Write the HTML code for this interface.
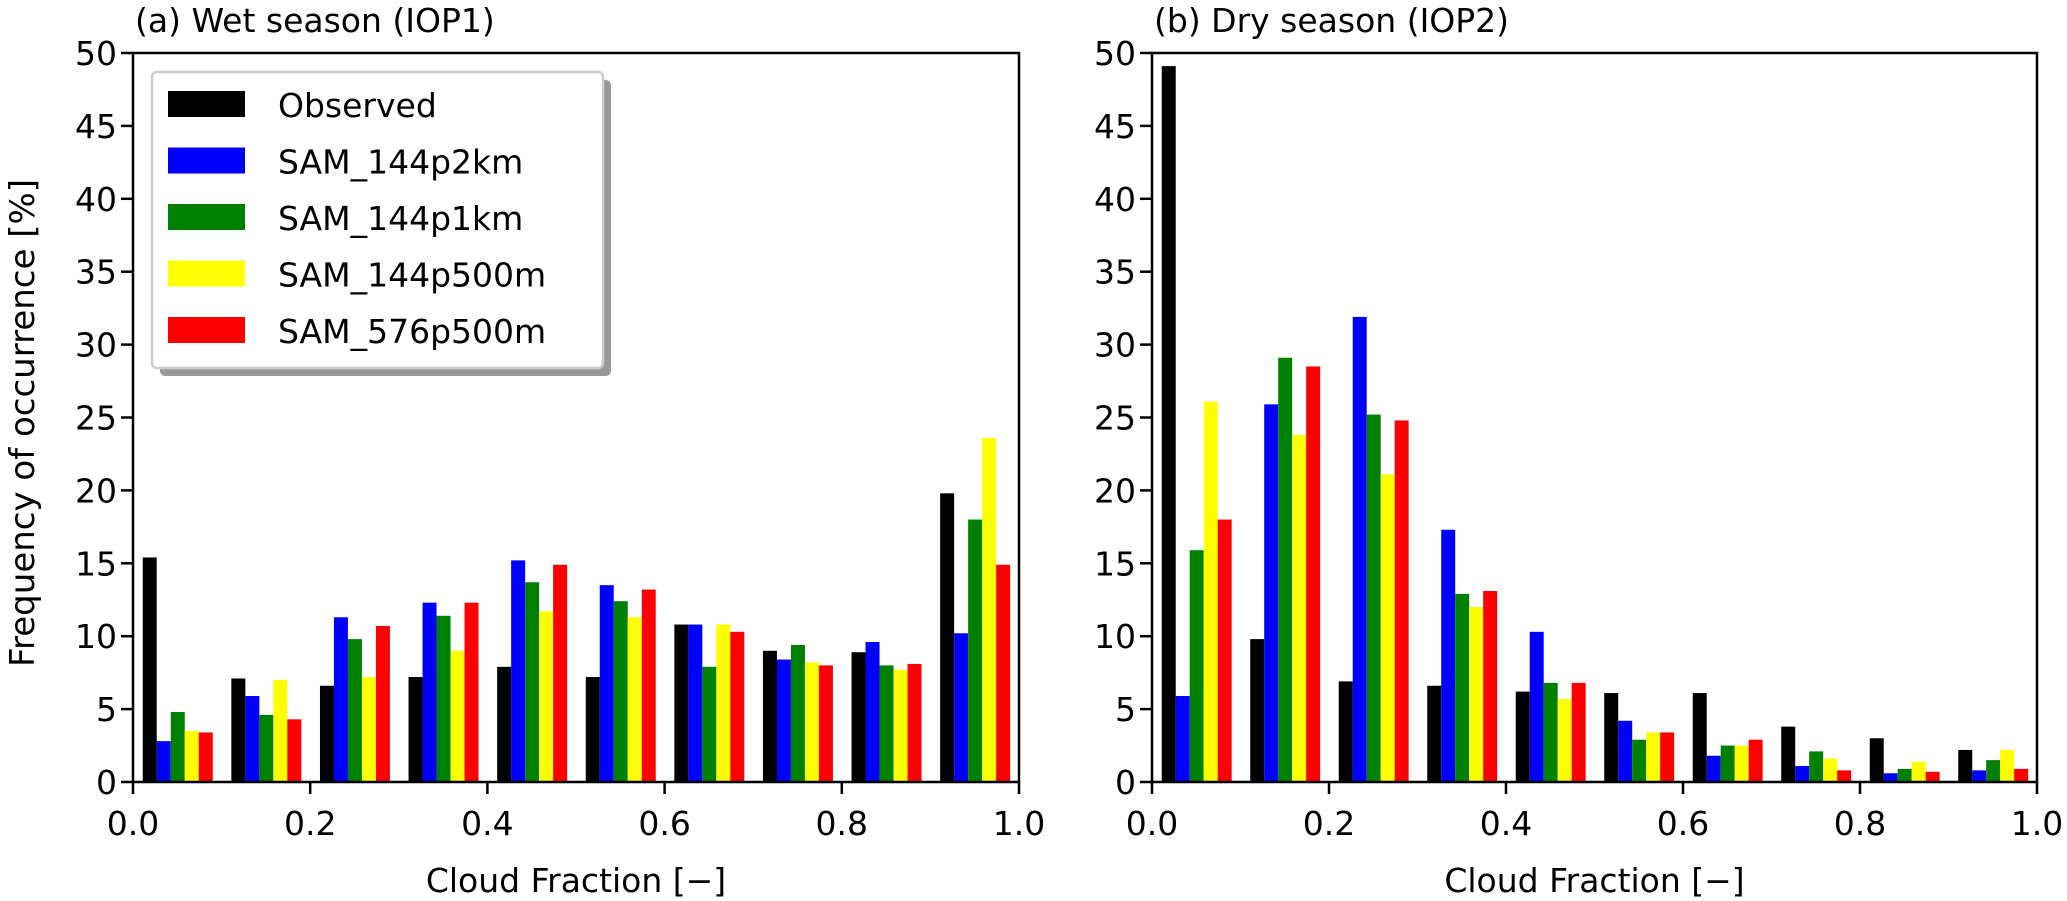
<!DOCTYPE html>
<html><head><meta charset="utf-8"><style>
body{margin:0;background:#fff;}
svg{display:block;font-family:"DejaVu Sans","Liberation Sans",sans-serif;}
</style></head><body>
<svg id="chart" width="2067" height="901" viewBox="0 0 2067 901"></svg>
<script>
const bins = [0,1,2,3,4,5,6,7,8,9];
const seriesNames = ["Observed","SAM_144p2km","SAM_144p1km","SAM_144p500m","SAM_576p500m"];
const seriesColors = ["#000000","#0000ff","#008000","#ffff00","#ff0000"];
const wetObserved = [15.4,7.1,6.6,7.2,7.9,7.2,10.8,9.0,8.9,19.8];
const wet2km = [2.8,5.9,11.3,12.3,15.2,13.5,10.8,8.4,9.6,10.2];
const wet1km = [4.8,4.6,9.8,11.4,13.7,12.4,7.9,9.4,8.0,18.0];
const wet500m = [3.5,7.0,7.2,9.0,11.7,11.3,10.8,8.2,7.7,23.6];
const wet576 = [3.4,4.3,10.7,12.3,14.9,13.2,10.3,8.0,8.1,14.9];
const dryObserved = [49.1,9.8,6.9,6.6,6.2,6.1,6.1,3.8,3.0,2.2];
const dry2km = [5.9,25.9,31.9,17.3,10.3,4.2,1.8,1.1,0.6,0.8];
const dry1km = [15.9,29.1,25.2,12.9,6.8,2.9,2.5,2.1,0.9,1.5];
const dry500m = [26.1,23.8,21.1,12.0,5.7,3.4,2.5,1.6,1.4,2.2];
const dry576 = [18.0,28.5,24.8,13.1,6.8,3.4,2.9,0.8,0.7,0.9];
const yTicks = [0,5,10,15,20,25,30,35,40,45,50];
const xTicks = [0.0,0.2,0.4,0.6,0.8,1.0];
const xTickLabels = ["0.0","0.2","0.4","0.6","0.8","1.0"];

const NS="http://www.w3.org/2000/svg";
const svg=document.getElementById('chart');
function mk(tag,attrs,parent){const e=document.createElementNS(NS,tag);for(const k in attrs)e.setAttribute(k,attrs[k]);(parent||svg).appendChild(e);return e;}

function panel(x0,x1,title,series,key){
  const y0=782,y1=53;
  const xs=v=>x0+(x1-x0)*v;
  const ys=v=>y0-(y0-y1)*v/50;
  const g=mk('g',{});
  
  
  series.forEach((arr,si)=>{
    bins.forEach((b,bi)=>{
      const xa=0.011+b*0.1+si*0.0158;
      const r=mk('rect',{x:xs(xa),y:ys(arr[bi]),width:xs(xa+0.0158)-xs(xa),height:ys(0)-ys(arr[bi]),fill:seriesColors[si]},g);
      
      
    });
  });
  const fr=mk('rect',{x:x0,y:y1,width:x1-x0,height:y0-y1,fill:'none',stroke:'#000','stroke-width':2.5},g);
  
  
  yTicks.forEach(t=>{
    mk('line',{x1:x0-12,x2:x0,y1:ys(t),y2:ys(t),stroke:'#000','stroke-width':2.5},g);
    const tx=mk('text',{x:x0-16,y:ys(t)+12,'text-anchor':'end','font-size':33},g);
    tx.textContent=t;
    
    
  });
  xTicks.forEach((t,i)=>{
    mk('line',{x1:xs(t),x2:xs(t),y1:y0,y2:y0+12,stroke:'#000','stroke-width':2.5},g);
    const tx=mk('text',{x:xs(t),y:835,'text-anchor':'middle','font-size':33},g);
    tx.textContent=xTickLabels[i];
    
    
  });
  const xt=mk('text',{x:(x0+x1)/2,y:892,'text-anchor':'middle','font-size':33},g);
  xt.textContent='Cloud Fraction [\u2212]';
  
  
  const tt=mk('text',{x:x0+2,y:32,'font-size':33},g);
  tt.textContent=title;
  
  
}
panel(133,1019,'(a) Wet season (IOP1)',[wetObserved,wet2km,wet1km,wet500m,wet576],'wet');
panel(1152,2037,'(b) Dry season (IOP2)',[dryObserved,dry2km,dry1km,dry500m,dry576],'dry');

const yt=mk('text',{x:0,y:0,'text-anchor':'middle','font-size':34,transform:'translate(34,423) rotate(-90)'});
yt.textContent='Frequency of occurrence [%]';



const lg=mk('g',{});


mk('rect',{x:160,y:80,width:451,height:296,rx:5,fill:'#999'},lg);
mk('rect',{x:152,y:72,width:451,height:296,rx:5,fill:'#fff',stroke:'#ccc','stroke-width':2.5},lg);
seriesNames.forEach((n,i)=>{
  const ty=91+i*56.5;
  const sw=mk('rect',{x:168,y:ty,width:77,height:26,fill:seriesColors[i]},lg);
  
  
  const tx=mk('text',{x:278,y:ty+26,'font-size':33},lg);
  tx.textContent=n;
  
  
});
</script>
</body></html>
